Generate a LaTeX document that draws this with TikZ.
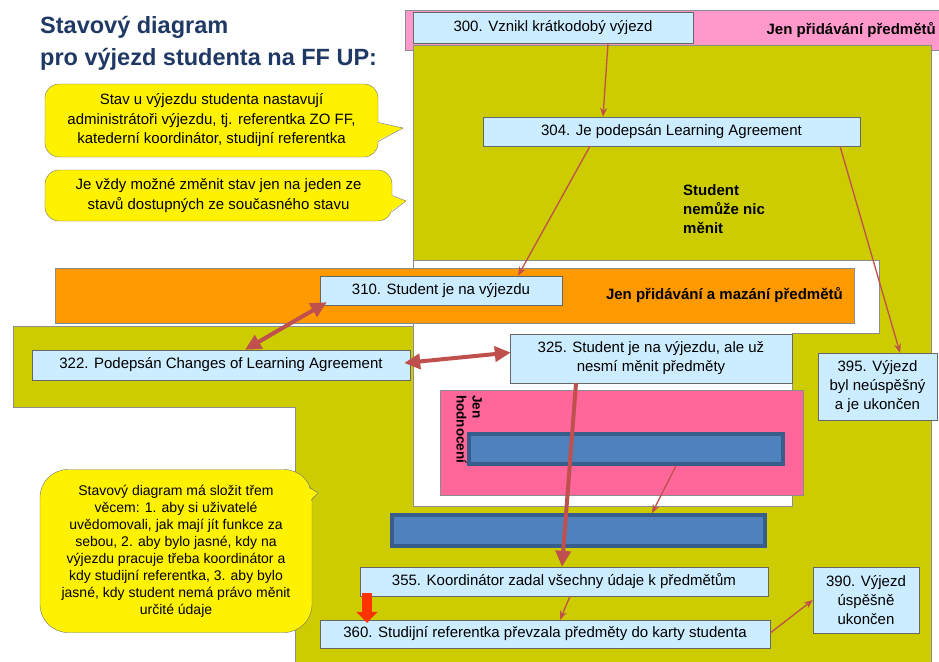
\documentclass[tikz,border=0pt]{standalone}
\usepackage{fontspec}
\setmainfont{Liberation Sans}
\usetikzlibrary{arrows.meta, calc}

\definecolor{olivebg}{HTML}{CCCC00}
\definecolor{pinktop}{HTML}{FF99CC}
\definecolor{orangebg}{HTML}{FF9900}
\definecolor{pinkbox}{HTML}{FF6699}
\definecolor{statefill}{HTML}{CCECFF}
\definecolor{barfill}{HTML}{4F81BD}
\definecolor{bardraw}{HTML}{385D8A}
\definecolor{arrowred}{HTML}{C0504D}
\definecolor{titleblue}{HTML}{1F3864}
\definecolor{blockred}{HTML}{FF3300}

\begin{document}
\begin{tikzpicture}[
    x=1pt, y=-1pt,
    state/.style={draw=black!60, fill=statefill, font=\fontsize{15}{19}\selectfont, align=center, inner sep=0pt},
    bar/.style={draw=bardraw, line width=3.5pt, fill=barfill, inner sep=0pt},
    region/.style={draw=black!45, line width=0.8pt},
    regionlabel/.style={font=\fontsize{15}{19}\selectfont\bfseries, align=left, inner sep=0pt},
    note/.style={draw=black!55, fill=yellow, rounded corners=14pt, align=center, inner sep=0pt, font=\fontsize{15}{19.5}\selectfont},
    notedge/.style={draw=black!55},
    arrow/.style={-{Stealth[length=9pt,width=7pt]}, line width=1.3pt, arrowred},
    bigarrow/.style={-{Triangle[length=16pt,width=15pt]}, line width=4pt, arrowred},
    bigboth/.style={{Triangle[length=16pt,width=15pt]}-{Triangle[length=16pt,width=15pt]}, line width=4pt, arrowred},
    blockarrow/.style={-{Triangle[length=11pt,width=21pt]}, line width=10pt, blockred}
]
\fill[white] (0,0) rectangle (939,661);
\useasboundingbox (0,0) rectangle (939,661);

% Regions
\draw[region, fill=pinktop] (939,10) -- (405,10) -- (405,50) -- (939,50);
\draw[region, fill=olivebg] (413,45) -- (931,45) -- (931,662) -- (295,662) -- (295,407)
    -- (13,407) -- (13,326) -- (413,326) -- cycle;
\draw[region, fill=white] (413,260) -- (879,260) -- (879,333) -- (792,333) -- (792,506)
    -- (413,506) -- cycle;
\draw[region, fill=orangebg] (55,268) rectangle (854,323);
\draw[region, fill=pinkbox] (440,390) rectangle (803,495);

\node[regionlabel, anchor=east] (onlyadd) at (936,30) {Jen přidávání předmětů};
\node[regionlabel, anchor=west] (nochange) at (683,209) {Student\\nemůže nic\\měnit};
\node[regionlabel, anchor=east] (adddel) at (843,295) {Jen přidávání a mazání předmětů};
\node[regionlabel, font=\fontsize{13.5}{16}\selectfont\bfseries, rotate=-90, anchor=north west] (grading) at (482,395) {Jen\\hodnocení};

% Title
\node[anchor=north west, inner sep=0pt, align=left, font=\fontsize{23.5}{32}\selectfont\bfseries, text=titleblue] (title) at (40,16) {Stavový diagram\\pro výjezd studenta na FF UP:};

% Notes
\node[note, minimum width=333, minimum height=73] (note1) at (211.5,120.5) {Stav u výjezdu studenta nastavují\\administrátoři výjezdu, tj. referentka ZO FF,\\katederní koordinátor, studijní referentka};
\coordinate (tip1) at (403,128);
\fill[yellow] ([shift={(-2,2)}]note1.east) -- (tip1) -- ([shift={(-2,21)}]note1.east) -- cycle;
\draw[notedge] ([shift={(0,2)}]note1.east) -- (tip1) -- ([shift={(0,21)}]note1.east);

\node[note, minimum width=347, minimum height=51] (note2) at (218.5,195.5) {Je vždy možné změnit stav jen na jeden ze\\stavů dostupných ze současného stavu};
\coordinate (tip2) at (406,201);
\fill[yellow] ([shift={(-2,0)}]note2.east) -- (tip2) -- ([shift={(-2,16)}]note2.east) -- cycle;
\draw[notedge] ([shift={(0,0)}]note2.east) -- (tip2) -- ([shift={(0,16)}]note2.east);

\node[note, rounded corners=28pt, font=\fontsize{14}{17}\selectfont, minimum width=272, minimum height=163] (note3) at (176,551) {Stavový diagram má složit třem\\věcem: 1. aby si uživatelé\\uvědomovali, jak mají jít funkce za\\sebou, 2. aby bylo jasné, kdy na\\výjezdu pracuje třeba koordinátor a\\kdy studijní referentka, 3. aby bylo\\jasné, kdy student nemá právo měnit\\určité údaje};
\coordinate (tip3) at (318,493);
\fill[yellow] ([shift={(-5,18)}]note3.north east) -- (tip3) -- ([shift={(-3,31)}]note3.north east) -- cycle;
\draw[notedge] ([shift={(-3,18)}]note3.north east) -- (tip3) -- ([shift={(-1,31)}]note3.north east);

% States
\node[state, minimum width=280, minimum height=31] (s300) at (553,27.5) {300. Vznikl krátkodobý výjezd};
\node[state, minimum width=377, minimum height=29] (s304) at (671.5,131.5) {304. Je podepsán Learning Agreement};
\node[state, minimum width=242, minimum height=29] (s310) at (441,290.5) {310. Student je na výjezdu};
\node[state, minimum width=378, minimum height=30] (s322) at (221,365) {322. Podepsán Changes of Learning Agreement};
\node[state, minimum width=282, minimum height=49] (s325) at (651,358.5) {325. Student je na výjezdu, ale už\\nesmí měnit předměty};
\node[state, minimum width=119, minimum height=67] (s395) at (877.5,386.5) {395. Výjezd\\byl neúspěšný\\a je ukončen};
\node[bar, minimum width=314, minimum height=30] (bar1) at (626,449) {};
\node[bar, minimum width=373, minimum height=31] (bar2) at (578.5,530.5) {};
\node[state, minimum width=408, minimum height=29] (s355) at (564,581.5) {355. Koordinátor zadal všechny údaje k předmětům};
\node[state, minimum width=450, minimum height=28] (s360) at (545,634) {360. Studijní referentka převzala předměty do karty studenta};
\node[state, minimum width=106, minimum height=66] (s390) at (866,600) {390. Výjezd\\úspěšně\\ukončen};

% Transitions
\draw[arrow] ([xshift=55]s300.south) -- ([xshift=-68.5]s304.north);
\draw[arrow] ([xshift=-81.5]s304.south) -- ([xshift=77]s310.north);
\draw[arrow] ([xshift=168.5]s304.south) -- ([xshift=22.5]s395.north);
\draw[bigboth] ([shift={(7,-3)}]s310.south west) -- ([xshift=24]s322.north);
\draw[bigboth] ([shift={(-6,-2)}]s322.east) -- ([shift={(1,-6)}]s325.west);
\draw[bigarrow] ([xshift=-75]s325.south) -- ([xshift=-2]s355.north);
\draw[arrow] ([xshift=50]bar1.south) -- ([xshift=73.5]bar2.north);
\draw[arrow] ([xshift=6]s355.south) -- ([xshift=15]s360.north);
\draw[arrow] ([shift={(0,-1)}]s360.east) -- (s390.west);
\draw[blockarrow] ([shift={(-197,-3)}]s355.south) -- ([shift={(-178,3)}]s360.north);

\end{tikzpicture}
\end{document}
